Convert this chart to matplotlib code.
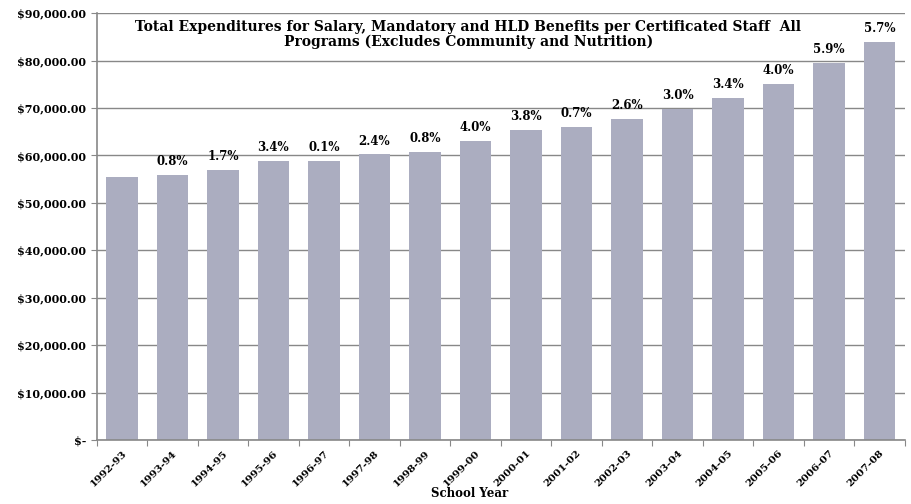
import matplotlib
matplotlib.use("Agg")
import matplotlib.pyplot as plt
from matplotlib.ticker import FuncFormatter

years = ["1992-93", "1993-94", "1994-95", "1995-96", "1996-97", "1997-98",
         "1998-99", "1999-00", "2000-01", "2001-02", "2002-03", "2003-04",
         "2004-05", "2005-06", "2006-07", "2007-08"]
expend = [55500, 55900, 56900, 58800, 58850, 60200, 60700, 63100,
          65400, 65900, 67700, 69800, 72100, 75000, 79400, 84000]
pct = ["", "0.8%", "1.7%", "3.4%", "0.1%", "2.4%", "0.8%", "4.0%",
       "3.8%", "0.7%", "2.6%", "3.0%", "3.4%", "4.0%", "5.9%", "5.7%"]

SERIF = ["DejaVu Serif"]
fig = plt.figure(figsize=(9.12, 5.04), dpi=100)
ax = fig.add_axes([0.106, 0.127, 0.886, 0.847])

x = range(len(years))
ax.bar(x, expend, width=0.62, color="#abadc0", zorder=2)
for i, (v, p) in enumerate(zip(expend, pct)):
    if p:
        ax.annotate(p, (i, v), xytext=(0, 5), textcoords="offset points",
                    ha="center", va="bottom", fontsize=8.5, fontweight="bold",
                    family=SERIF)

ax.set_xlim(-0.5, len(years) - 0.5)
ax.set_ylim(0, 90000)
ax.set_yticks(range(0, 90001, 10000))
ax.yaxis.set_major_formatter(FuncFormatter(
    lambda v, _: "$-" if v == 0 else f"${v:,.2f}"))
ax.set_xticks([i - 0.5 for i in range(len(years) + 1)], minor=False)
ax.set_xticklabels([])
ax.set_xticks(list(x), minor=True)
ax.set_xticklabels(years, minor=True, rotation=45, ha="right",
                   rotation_mode="anchor", fontsize=7.5, fontweight="bold",
                   family=SERIF)
ax.tick_params(axis="x", which="minor", length=0, pad=6)
ax.tick_params(axis="x", which="major", length=4, color="#888888")
ax.tick_params(axis="y", length=4, color="#888888", labelsize=8)
for lab in ax.get_yticklabels():
    lab.set_family(SERIF)
    lab.set_fontweight("bold")

ax.grid(axis="y", color="#888888", linewidth=1, zorder=0)
for s in ["top", "right"]:
    ax.spines[s].set_visible(False)
for s in ["left", "bottom"]:
    ax.spines[s].set_color("#888888")
    ax.spines[s].set_linewidth(1.2)

ax.text(0.46, 0.985, "Total Expenditures for Salary, Mandatory and HLD Benefits per Certificated Staff  All\nPrograms (Excludes Community and Nutrition)",
        transform=ax.transAxes, ha="center", va="top", fontsize=10,
        fontweight="bold", family=SERIF, linespacing=1.1)
fig.text(0.515, 0.008, "School Year", ha="center", va="bottom", fontsize=8.5,
         fontweight="bold", family=SERIF)

fig.savefig("out.png", dpi=100, facecolor="white")
